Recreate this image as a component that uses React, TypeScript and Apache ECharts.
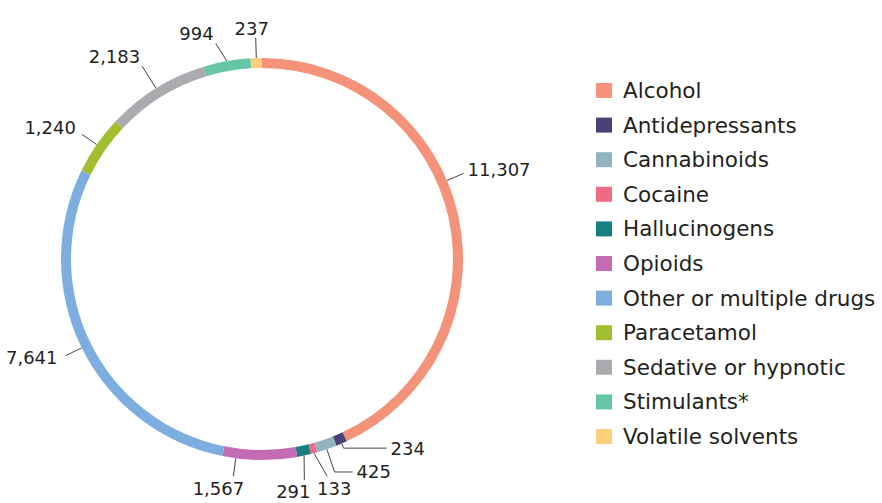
import React, { useEffect, useRef } from "react";
import * as echarts from "echarts";

// Drug categories, counts and their palette
const categories = [
  "Alcohol",
  "Antidepressants",
  "Cannabinoids",
  "Cocaine",
  "Hallucinogens",
  "Opioids",
  "Other or multiple drugs",
  "Paracetamol",
  "Sedative or hypnotic",
  "Stimulants*",
  "Volatile solvents",
];
const counts = [11307, 234, 425, 133, 291, 1567, 7641, 1240, 2183, 994, 237];
const colors = [
  "#F4937A",
  "#4A4178",
  "#93B3BF",
  "#EE6B86",
  "#1A7F80",
  "#C46BB5",
  "#7EAEE0",
  "#A3BE2F",
  "#ABABAF",
  "#66C6A6",
  "#FCD07A",
];

// Leader-line lengths per slice (first radial segment, then horizontal run)
const lineLength = [18, 5, 24, 24, 25, 18, 18, 18, 26, 18, 20];
const lineLength2 = [0, 43, 18, 0, 0, 0, 0, 0, 0, 0, 0];
// Angle (degrees, counter-clockwise from 3 o'clock) where a leader line
// leaves the ring, for the labels that are not anchored at the slice middle
const anchorAngle: Record<number, number> = { 0: 23, 5: -97.5 };
// Sideways shift of a leader line's end point
const lineShift: Record<number, number> = { 3: 7, 4: -5, 9: -8 };
// Extra text offset from its default spot next to the line end: [dx, dy]
const textShift: Record<number, [number, number]> = {
  0: [0, -4],
  3: [7, 0],
  4: [-11, 0],
  5: [-15, 0],
  6: [-4, 2],
  7: [-2, -7],
  10: [-4, 0],
};
// Labels that sit up and to the left of their line end
const cornerLabels = new Set([8, 9]);

const CX = 262;
const CY = 259;
const R_IN = 191;
const R_OUT = 201;

const fmt = (v: number) => v.toLocaleString("en-US");

export default function App() {
  const ref = useRef<HTMLDivElement>(null);

  useEffect(() => {
    if (!ref.current) return;
    const chart = echarts.init(ref.current, undefined, { renderer: "svg" });
    chart.setOption({
      animation: false,
      backgroundColor: "#ffffff",
      legend: {
        orient: "vertical",
        left: 591,
        top: 74.5,
        itemWidth: 16,
        itemHeight: 15,
        itemGap: 12.6,
        icon: "rect",
        data: categories,
        textStyle: {
          fontFamily: "DejaVu Sans",
          fontSize: 21.5,
          lineHeight: 21,
          color: "#231F20",
          padding: [0, 0, 0, 6],
        },
      },
      series: [
        {
          type: "pie",
          center: [CX, CY],
          radius: [R_IN, R_OUT],
          startAngle: 90,
          clockwise: true,
          avoidLabelOverlap: false,
          label: {
            show: true,
            position: "outside",
            fontFamily: "DejaVu Sans",
            fontSize: 18,
            color: "#231F20",
            distanceToLabelLine: 4,
            formatter: (p: any) => fmt(p.value),
          },
          labelLine: {
            show: true,
            lineStyle: { color: "#444444", width: 1 },
          },
          // Labels at the very top or bottom of the ring sit centred
          // above/below the end of their leader line; the others sit beside it.
          labelLayout: (params: any) => {
            let pts: number[][] | undefined = params.labelLinePoints;
            if (!pts || pts.length < 2) return { hideOverlap: false };
            const i = params.dataIndex;
            const override = anchorAngle[i];
            if (override !== undefined) {
              const a = (override * Math.PI) / 180;
              const ux = Math.cos(a);
              const uy = -Math.sin(a);
              const start = [CX + R_OUT * ux, CY + R_OUT * uy];
              const mid = [start[0] + lineLength[i] * ux, start[1] + lineLength[i] * uy];
              const end = [mid[0] + (ux >= 0 ? 1 : -1) * lineLength2[i], mid[1]];
              pts = [start, mid, end];
            }
            const lineDx = lineShift[i] || 0;
            const [tdx, tdy] = textShift[i] || [0, 0];
            const newPts = pts.map((p, k) =>
              k === 0 ? [p[0], p[1]] : [p[0] + lineDx, p[1]]
            );
            const e = newPts[newPts.length - 1];
            const dx = e[0] - CX;
            const dy = e[1] - CY;
            const s = dy / Math.hypot(dx, dy);
            if (cornerLabels.has(i)) {
              return {
                hideOverlap: false,
                x: e[0] - 2 + tdx,
                y: e[1] - 1 + tdy,
                align: "right",
                verticalAlign: "bottom",
                labelLinePoints: newPts,
              };
            }
            if (Math.abs(s) < 0.95) {
              return {
                hideOverlap: false,
                x: e[0] + (dx >= 0 ? 4 : -4) + tdx,
                y: e[1] + tdy,
                align: dx >= 0 ? "left" : "right",
                verticalAlign: "middle",
                labelLinePoints: newPts,
              };
            }
            return {
              hideOverlap: false,
              x: e[0] + tdx,
              y: (s < 0 ? e[1] - 1 : e[1] + 3) + tdy,
              align: "center",
              verticalAlign: s < 0 ? "bottom" : "top",
              labelLinePoints: newPts,
            };
          },
          emphasis: { disabled: true },
          data: categories.map((name, i) => ({
            name,
            value: counts[i],
            itemStyle: { color: colors[i] },
            labelLine: { length: lineLength[i], length2: lineLength2[i] },
          })),
        },
      ],
    });
    return () => chart.dispose();
  }, []);

  return (
    <div
      ref={ref}
      style={{ position: "absolute", left: 0, top: 0, width: 882, height: 503 }}
    />
  );
}
